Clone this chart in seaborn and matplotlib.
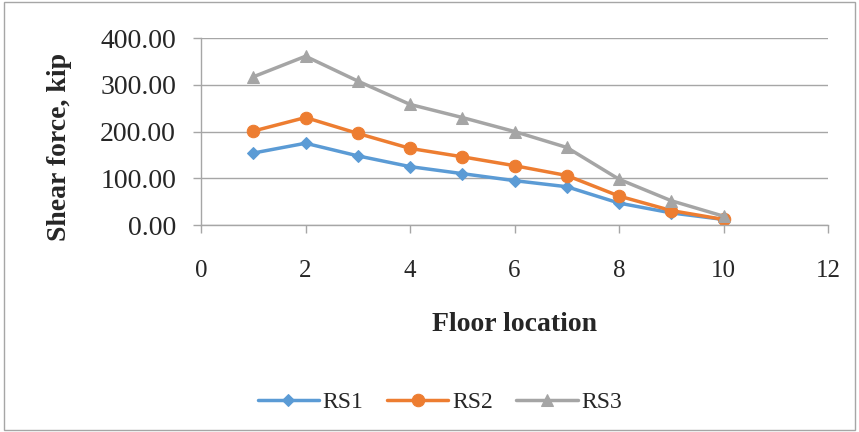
import pandas as pd
import matplotlib.pyplot as plt
import seaborn as sns
from matplotlib.patches import Rectangle

# data
floors = [1, 2, 3, 4, 5, 6, 7, 8, 9, 10]
rs1 = [154, 175, 148, 125, 110, 95, 82, 47, 26, 12]
rs2 = [201, 230, 196, 164, 146, 127, 106, 62, 31, 12]
rs3 = [317, 361, 308, 258, 230, 200, 166, 98, 52, 19]
series_names = ["RS1", "RS2", "RS3"]
y_ticks = [0, 100, 200, 300, 400]
x_ticks = [0, 2, 4, 6, 8, 10, 12]

df = pd.DataFrame({
    "Floor": floors * 3,
    "Shear": rs1 + rs2 + rs3,
    "Series": [s for s in series_names for _ in floors],
})

sns.set_style("white")
plt.rcParams["font.family"] = ["Liberation Serif", "DejaVu Serif"]

colors = {"RS1": "#5B9BD5", "RS2": "#ED7D31", "RS3": "#A5A5A5"}
markers = {"RS1": "D", "RS2": "o", "RS3": "^"}
msizes = {"RS1": 6.5, "RS2": 9, "RS3": 9}

fig = plt.figure(figsize=(8.59, 4.32), dpi=100)
ax = fig.add_axes([0.234, 0.479, 0.730, 0.433])

for name in series_names:
    sub = df[df["Series"] == name]
    sns.lineplot(data=sub, x="Floor", y="Shear", ax=ax, color=colors[name],
                 marker=markers[name], markersize=msizes[name],
                 markeredgecolor=colors[name], linewidth=2.5, label=name)

ax.set_xlim(0, 12)
ax.set_ylim(0, 400)
ax.set_xticks(x_ticks)
ax.set_yticks(y_ticks)
ax.set_yticklabels(["{:.2f}".format(v) for v in y_ticks])
ax.grid(axis="y", color="#A6A6A6", linewidth=1)
ax.set_axisbelow(True)

for side in ["top", "right"]:
    ax.spines[side].set_visible(False)
for side in ["left", "bottom"]:
    ax.spines[side].set_color("#A6A6A6")
    ax.spines[side].set_linewidth(1)

ax.tick_params(axis="both", direction="out", length=6, width=1,
               color="#A6A6A6", left=True, bottom=True)
ax.tick_params(axis="y", labelsize=20, pad=12)
ax.tick_params(axis="x", labelsize=18, pad=19)

ax.set_xlabel("Floor location", fontsize=20, fontweight="bold", labelpad=22)
ax.set_ylabel("Shear force, kip", fontsize=20, fontweight="bold")
ax.yaxis.set_label_coords(-0.205, 0.42)

ax.get_legend().remove()
handles, labels = ax.get_legend_handles_labels()
fig.legend(handles, labels, loc="center", bbox_to_anchor=(0.512, 0.068), ncol=3,
           frameon=False, fontsize=17, handlelength=2.6, columnspacing=1.0,
           handletextpad=0.15)

fig.patches.append(Rectangle((0.005, 0.004), 0.99, 0.992, transform=fig.transFigure,
                             fill=False, edgecolor="#A6A6A6", linewidth=1))

fig.savefig("out.png", dpi=100)
